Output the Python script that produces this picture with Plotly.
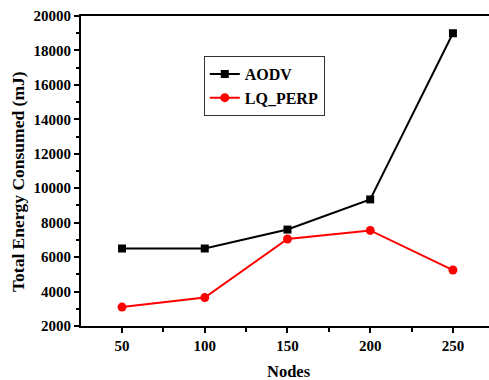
import plotly.graph_objects as go

nodes = [50, 100, 150, 200, 250]
aodv = [6500, 6500, 7600, 9350, 19000]
lq_perp = [3100, 3650, 7050, 7550, 5250]

font_family = "Liberation Serif"

fig = go.Figure()
fig.add_trace(go.Scatter(
    x=nodes, y=aodv, name="AODV", mode="lines+markers",
    line=dict(color="black", width=2),
    marker=dict(symbol="square", size=8, color="black"),
))
fig.add_trace(go.Scatter(
    x=nodes, y=lq_perp, name="LQ_PERP", mode="lines+markers",
    line=dict(color="#ff0000", width=2),
    marker=dict(symbol="circle", size=9, color="#ff0000"),
))

fig.update_layout(
    width=489, height=380,
    margin=dict(l=81, r=0, t=16, b=54, autoexpand=False),
    paper_bgcolor="white", plot_bgcolor="white",
    font=dict(family=font_family, color="black", weight="bold"),
    showlegend=True,
    legend=dict(
        x=0.301, y=0.871, xanchor="left", yanchor="top",
        bgcolor="white", bordercolor="#333333", borderwidth=1,
        font=dict(size=16, family=font_family, color="black", weight="bold"),
        tracegroupgap=0, itemwidth=30,
    ),
    xaxis=dict(
        range=[25.2, 271.8], tick0=50, dtick=50,
        automargin=False,
        showgrid=False, zeroline=False,
        showline=True, linewidth=2, linecolor="black", mirror=True,
        ticks="outside", ticklen=5, tickwidth=1.5, tickcolor="black",
        minor=dict(dtick=25, tick0=25, ticks="outside", ticklen=4, tickcolor="black", showgrid=False),
        tickfont=dict(size=15, family=font_family, weight="bold"),
    ),
    yaxis=dict(
        range=[2000, 20000], tick0=2000, dtick=2000,
        automargin=False,
        showgrid=False, zeroline=False,
        showline=True, linewidth=2, linecolor="black", mirror=False,
        ticks="outside", ticklen=5, tickwidth=1.5, tickcolor="black",
        minor=dict(dtick=1000, ticks="outside", ticklen=3, tickcolor="black", showgrid=False),
        tickfont=dict(size=15, family=font_family, weight="bold"),
        tickformat="d",
    ),
)

# axis titles placed as annotations
fig.add_annotation(
    text="Nodes", xref="paper", yref="paper", x=0.51, y=-0.148,
    xanchor="center", yanchor="middle", showarrow=False,
    font=dict(size=16.5, family=font_family, weight="bold", color="black"),
)
fig.add_annotation(
    text="Total Energy Consumed (mJ)", xref="paper", yref="paper",
    x=-0.1544, y=0.4645, xanchor="center", yanchor="middle",
    textangle=-90, showarrow=False,
    font=dict(size=17.5, family=font_family, weight="bold", color="black"),
)

fig.write_html("out.html")
